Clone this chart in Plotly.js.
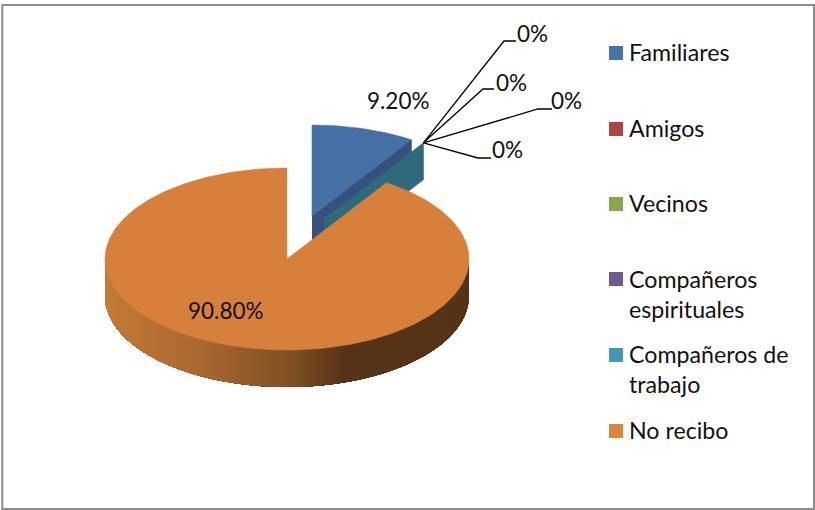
<!DOCTYPE html>
<html><head><meta charset="utf-8">
<script src="https://cdn.plot.ly/plotly-3.0.1.min.js"></script>
<style>html,body{margin:0;padding:0;background:#fff}#c{width:815px;height:510px}</style>
</head><body><div id="c"></div>
<script>
const categories = ["Familiares","Amigos","Vecinos","Compañeros espirituales","Compañeros de trabajo","No recibo"];
const legendLines = ["Familiares","Amigos","Vecinos","Compañeros<br>espirituales","Compañeros de<br>trabajo","No recibo"];
const values = [9.2,0,0,0,0,90.8];
const valueLabels = ["9.20%","0%","0%","0%","0%","90.80%"];
const colors = ["#4572a7","#aa4643","#89a54e","#71588f","#4198af","#db843d"];

// projection of the tilted pie, in page pixels
const RX=182, RY=91, DEPTH=37, FONT="Lato, Carlito, sans-serif";
const C={x:287,y:259}, BLUE={x:312,y:216}, TEAL={x:324,y:219};
const total=values.reduce((a,b)=>a+b,0);
const split=values[0]/total*2*Math.PI;
const pt=(c,a,d=0)=>[c.x+RX*Math.sin(a), c.y-RY*Math.cos(a)+d];
const arc=(c,a0,a1,d=0,n=120)=>{const o=[];for(let i=0;i<=n;i++)o.push(pt(c,a0+(a1-a0)*i/n,d));return o;};
const poly=(pts,color,name,w=0.6)=>({type:"scatter",mode:"lines",x:pts.map(p=>p[0]),y:pts.map(p=>p[1]),fill:"toself",
  fillcolor:color,line:{color:color,width:w},hoverinfo:"skip",name:name,showlegend:false});

const traces=[];
// exploded first slice: its cut wall, then its top
const wall=(c,color,n)=>poly([[c.x,c.y],pt(c,split),pt(c,split,DEPTH),[c.x,c.y+DEPTH]],color,n);
traces.push(poly([[BLUE.x,BLUE.y],...arc(BLUE,0,split)],"#4570a5",categories[0]));
traces.push(wall(BLUE,"#35527f",categories[0]+" wall"));
traces.push(wall(TEAL,"#2e6a7a",categories[4]+" wall"));

// main slice: shaded rim painted from right to left, each band running to the far left end
const stops=[[105,[196,122,56]],[200,[170,103,48]],[290,[128,80,36]],[345,[86,50,22]],[469,[86,50,22]]];
function shade(x){
  for(let i=1;i<stops.length;i++){ if(x<=stops[i][0]){
    const [x0,c0]=stops[i-1],[x1,c1]=stops[i],t=Math.max(0,(x-x0)/(x1-x0));
    return "rgb("+c0.map((v,k)=>Math.round(v+(c1[k]-v)*t)).join(",")+")"; } }
  return "rgb(86,50,22)";
}
const STRIPS=130, END=1.5*Math.PI;
for(let i=0;i<STRIPS;i++){
  const a0=Math.PI/2+Math.PI*i/STRIPS, a1=Math.PI/2+Math.PI*(i+1)/STRIPS;
  const top=arc(C,a0,END,0,60), bot=arc(C,END,a0,DEPTH,60);
  traces.push(poly([...top,...bot],shade(C.x+RX*Math.sin((a0+a1)/2)),"rim",0));
}
traces.push(poly([[C.x,C.y],...arc(C,split,2*Math.PI,0,240)],"#d6803c",categories[5]));

// leader lines of the zero labels
const tip=pt(TEAL,split);
const leaders=[[[504,41],[516,41]],[[483,89],[494,89]],[[538,109],[552,109]],[[478,158],[491,158]]];
leaders.forEach(l=>traces.push({type:"scatter",mode:"lines",x:[tip[0],l[0][0],l[1][0]],y:[tip[1],l[0][1],l[1][1]],
  line:{color:"#000",width:1.3},hoverinfo:"skip",showlegend:false}));

// legend swatches
const swatchY=[53,129,204,279,355,431];
traces.push({type:"scatter",mode:"markers",x:categories.map(()=>616),y:swatchY,
  marker:{symbol:"square",size:14,color:colors,line:{width:0}},hoverinfo:"skip",showlegend:false});

const ann=(x,y,text,anchor="center",size=22.5)=>({x,y,text,xref:"x",yref:"y",showarrow:false,xanchor:anchor,yanchor:"middle",
  align:"left",font:{family:FONT,size,color:"#111"}});
const annotations=[
  ann(398,100,valueLabels[0]),
  ann(532,33,valueLabels[1]),ann(511,82,valueLabels[2]),ann(566,100,valueLabels[3]),ann(507,149,valueLabels[4]),
  ann(226,310,valueLabels[5]),
];
const textY=[52,128,203,294,369,430];
legendLines.forEach((t,i)=>annotations.push(ann(626.5,textY[i],t,"left",23.2)));

const layout={width:815,height:510,margin:{l:0,r:0,t:0,b:0},paper_bgcolor:"#fff",plot_bgcolor:"#fff",showlegend:false,
  xaxis:{range:[0,815],visible:false,fixedrange:true},yaxis:{range:[510,0],visible:false,fixedrange:true},
  annotations,
  shapes:[{type:"rect",xref:"x",yref:"y",x0:2.3,y0:5,x1:814,y1:509,line:{color:"#8c8c8c",width:2},fillcolor:"rgba(0,0,0,0)",layer:"below"}]};
Plotly.newPlot("c",traces,layout,{displayModeBar:false,staticPlot:true});
</script></body></html>
